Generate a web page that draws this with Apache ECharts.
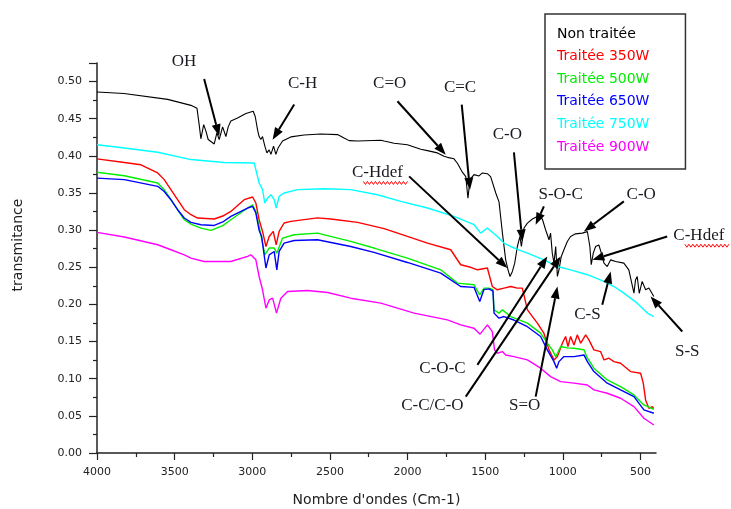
<!DOCTYPE html>
<html>
<head>
<meta charset="utf-8">
<script src="https://cdn.jsdelivr.net/npm/echarts@6/dist/echarts.min.js"></script>
<style>
  html, body { margin: 0; padding: 0; background: #fff; }
  #chart { width: 731px; height: 509px; }
</style>
</head>
<body>
<div id="chart"></div>
<script>
// spectra: [wavenumber (cm-1), transmittance]
const nonTraitee = [[4000,0.486],[3826,0.484],[3545,0.476],[3395,0.468],[3356,0.464],[3342,0.442],[3331,0.423],[3313,0.442],[3298,0.433],[3284,0.422],[3245,0.416],[3228,0.431],[3213,0.422],[3191,0.439],[3170,0.426],[3155,0.439],[3138,0.447],[3095,0.451],[3041,0.457],[2994,0.460],[2981,0.453],[2966,0.435],[2956,0.426],[2945,0.422],[2934,0.426],[2919,0.413],[2906,0.404],[2891,0.408],[2880,0.402],[2863,0.413],[2848,0.402],[2833,0.411],[2805,0.420],[2752,0.4255],[2666,0.428],[2559,0.4295],[2451,0.4286],[2409,0.424],[2376,0.4205],[2322,0.420],[2172,0.421],[2151,0.420],[2087,0.417],[2001,0.415],[1915,0.409],[1872,0.407],[1808,0.404],[1765,0.3995],[1743,0.398],[1701,0.396],[1679,0.390],[1647,0.378],[1625,0.372],[1611,0.343],[1598,0.368],[1572,0.3747],[1540,0.373],[1518,0.377],[1486,0.376],[1465,0.372],[1432,0.350],[1411,0.338],[1389,0.296],[1368,0.260],[1353,0.2466],[1340,0.2376],[1325,0.2444],[1310,0.2556],[1293,0.278],[1276,0.2915],[1267,0.278],[1250,0.3028],[1228,0.3095],[1196,0.315],[1164,0.3185],[1132,0.315],[1111,0.3005],[1089,0.287],[1079,0.296],[1068,0.269],[1057,0.2556],[1046,0.278],[1035,0.2376],[1025,0.2466],[1010,0.2646],[993,0.2736],[971,0.2848],[950,0.2915],[918,0.295],[875,0.296],[842,0.298],[826,0.278],[817,0.2534],[804,0.269],[789,0.278],[768,0.280],[752,0.269],[735,0.2556],[714,0.251],[692,0.260],[660,0.2578],[607,0.2556],[575,0.2466],[542,0.2152],[532,0.233],[521,0.2376],[508,0.215],[489,0.231],[467,0.2197],[446,0.222],[414,0.2107]];
const traitee350 = [[4000,0.396],[3824,0.391],[3717,0.388],[3609,0.377],[3567,0.368],[3524,0.3545],[3481,0.341],[3438,0.3275],[3395,0.3208],[3352,0.3163],[3245,0.315],[3190,0.319],[3138,0.3252],[3052,0.341],[2998,0.3446],[2977,0.3365],[2956,0.314],[2934,0.2983],[2912,0.278],[2891,0.2915],[2865,0.2983],[2846,0.2803],[2827,0.2983],[2795,0.3096],[2752,0.3118],[2580,0.3165],[2494,0.315],[2322,0.3105],[2151,0.302],[2001,0.2915],[1872,0.2826],[1722,0.2736],[1658,0.2534],[1593,0.250],[1550,0.2466],[1486,0.249],[1454,0.2241],[1422,0.2197],[1379,0.222],[1336,0.2241],[1293,0.222],[1261,0.222],[1228,0.1927],[1164,0.1748],[1122,0.1613],[1089,0.1388],[1057,0.1253],[1035,0.1298],[1003,0.1478],[982,0.1568],[967,0.1433],[950,0.1568],[928,0.1455],[907,0.159],[885,0.1478],[853,0.159],[832,0.1523],[800,0.1388],[757,0.1365],[735,0.1253],[703,0.1276],[671,0.123],[628,0.1208],[564,0.1096],[499,0.1074],[482,0.094],[467,0.0714],[446,0.0602],[424,0.0624],[414,0.060]];
const traitee500 = [[4000,0.378],[3824,0.3733],[3609,0.3634],[3567,0.3545],[3524,0.341],[3481,0.3275],[3438,0.314],[3395,0.308],[3331,0.3028],[3266,0.2996],[3190,0.306],[3138,0.314],[3030,0.3298],[2998,0.3342],[2977,0.3252],[2956,0.305],[2934,0.2826],[2919,0.2668],[2891,0.2759],[2859,0.2759],[2842,0.269],[2805,0.2893],[2730,0.2938],[2580,0.296],[2366,0.2848],[2216,0.2759],[2001,0.2624],[1786,0.2466],[1679,0.2287],[1572,0.2264],[1535,0.2129],[1508,0.222],[1476,0.222],[1450,0.220],[1443,0.1927],[1411,0.1883],[1389,0.1927],[1336,0.1837],[1228,0.1748],[1143,0.1613],[1100,0.1478],[1068,0.1388],[1046,0.1298],[1035,0.1343],[1014,0.1433],[971,0.1415],[928,0.1410],[864,0.139],[847,0.1298],[800,0.1142],[714,0.0984],[628,0.0894],[542,0.0782],[478,0.0647],[414,0.0589]];
const traitee650 = [[4000,0.370],[3824,0.368],[3609,0.359],[3567,0.352],[3524,0.341],[3481,0.3275],[3438,0.3163],[3395,0.3104],[3331,0.3073],[3245,0.3063],[3190,0.311],[3138,0.3185],[3030,0.3298],[2998,0.332],[2977,0.3230],[2956,0.300],[2940,0.2915],[2912,0.249],[2891,0.2668],[2859,0.2713],[2842,0.2466],[2827,0.2713],[2795,0.2826],[2730,0.286],[2580,0.287],[2366,0.278],[2216,0.270],[2001,0.2565],[1786,0.2422],[1658,0.2241],[1572,0.2230],[1535,0.2039],[1508,0.2200],[1476,0.2210],[1450,0.218],[1443,0.1883],[1411,0.1815],[1379,0.1837],[1315,0.179],[1228,0.170],[1143,0.1568],[1100,0.1388],[1057,0.123],[1040,0.1142],[1025,0.123],[993,0.1298],[928,0.1298],[864,0.132],[842,0.123],[800,0.1096],[714,0.094],[628,0.0849],[542,0.0759],[478,0.058],[414,0.0535]];
const traitee750 = [[4000,0.415],[3824,0.4106],[3609,0.4048],[3395,0.395],[3181,0.391],[2988,0.3904],[2972,0.377],[2956,0.3635],[2934,0.3545],[2919,0.3365],[2902,0.343],[2880,0.3477],[2859,0.341],[2846,0.3298],[2827,0.3455],[2795,0.350],[2708,0.3545],[2537,0.3558],[2366,0.3545],[2194,0.3477],[2044,0.3387],[1872,0.3298],[1701,0.3185],[1572,0.3073],[1529,0.296],[1486,0.3028],[1422,0.2915],[1379,0.2826],[1336,0.278],[1293,0.2740],[1228,0.269],[1122,0.260],[1035,0.251],[950,0.2466],[842,0.240],[735,0.2309],[671,0.2241],[607,0.2152],[521,0.2017],[456,0.1883],[414,0.1837]];
const traitee900 = [[4000,0.297],[3824,0.2907],[3609,0.2803],[3524,0.2736],[3438,0.2668],[3395,0.2624],[3310,0.2578],[3138,0.2578],[3030,0.2646],[3009,0.2668],[2977,0.260],[2956,0.2376],[2934,0.2197],[2912,0.195],[2891,0.206],[2869,0.2084],[2844,0.1883],[2816,0.2084],[2773,0.2174],[2644,0.2187],[2515,0.216],[2366,0.2084],[2172,0.2017],[1958,0.1883],[1743,0.1792],[1658,0.1725],[1572,0.168],[1533,0.1600],[1486,0.1725],[1454,0.1635],[1440,0.1388],[1422,0.1343],[1389,0.1365],[1368,0.132],[1315,0.1298],[1228,0.1253],[1143,0.1142],[1079,0.1028],[1014,0.0961],[928,0.094],[842,0.0916],[800,0.0849],[714,0.0804],[628,0.0737],[542,0.0624],[478,0.0468],[414,0.0377]];

const seriesNames = ['Non traitée', 'Traitée 350W', 'Traitée 500W', 'Traitée 650W', 'Traitée 750W', 'Traitée 900W'];
const seriesColors = ['#000000', '#ff0000', '#00ee00', '#0000ff', '#00ffff', '#ff00ff'];
const seriesData = [nonTraitee, traitee350, traitee500, traitee650, traitee750, traitee900];

const xMajorTicks = [4000, 3500, 3000, 2500, 2000, 1500, 1000, 500];
const xMinorTicks = [3750, 3250, 2750, 2250, 1750, 1250, 750];

// band assignments: label position, arrow start, arrow tip (data units)
const annotations = [
  { text: 'OH', at: [3440, 0.527], from: [3310, 0.5036], to: [3213, 0.4263] },
  { text: 'C-H', at: [2676, 0.4969], from: [2730, 0.469], to: [2869, 0.4218] },
  { text: 'C=O', at: [2115, 0.4973], from: [2065, 0.4735], to: [1754, 0.4016] },
  { text: 'C=C', at: [1662, 0.4915], from: [1651, 0.469], to: [1598, 0.3544] },
  { text: 'C-O', at: [1357, 0.4286], from: [1315, 0.4047], to: [1261, 0.2848] },
  { text: 'C-Hdef', at: [2194, 0.377], from: [1990, 0.3724], to: [1357, 0.2489], wavy: true },
  { text: 'S-O-C', at: [1014, 0.3477], from: [1122, 0.332], to: [1175, 0.3073] },
  { text: 'C-O', at: [495, 0.3477], from: [607, 0.3387], to: [864, 0.2982] },
  { text: 'C-Hdef', at: [124, 0.2925], from: [328, 0.2915], to: [810, 0.2601], wavy: true },
  { text: 'C-S', at: [842, 0.186], from: [746, 0.1995], to: [692, 0.2443] },
  { text: 'S-S', at: [199, 0.1365], from: [231, 0.1635], to: [435, 0.2106] },
  { text: 'C-O-C', at: [1775, 0.1142], from: [1550, 0.1186], to: [1100, 0.2646] },
  { text: 'C-C/C-O', at: [1840, 0.0633], from: [1625, 0.0759], to: [1014, 0.2646] },
  { text: 'S=O', at: [1246, 0.0633], from: [1175, 0.0759], to: [1035, 0.2241] }
];

const chart = echarts.init(document.getElementById('chart'));

const axisFont = { color: '#222', fontSize: 11, fontFamily: 'DejaVu Sans' };

const option = {
  animation: false,
  backgroundColor: '#fff',
  grid: { left: 97, right: 75, top: 63, bottom: 56, outerBoundsMode: 'none', containLabel: false },
  legend: {
    orient: 'vertical',
    left: 545,
    top: 14,
    padding: [13, 36, 15, 7],
    icon: 'none',
    itemWidth: 0,
    itemHeight: 14,
    itemGap: 8.6,
    selectedMode: false,
    backgroundColor: '#fff',
    borderColor: '#333',
    borderWidth: 1.5,
    textStyle: { fontFamily: 'DejaVu Sans', fontSize: 14 },
    data: seriesNames.map((n, i) => ({ name: n, textStyle: { color: seriesColors[i] } }))
  },
  xAxis: [
    {
      type: 'value',
      min: 400,
      max: 4000,
      inverse: true,
      position: 'bottom',
      name: "Nombre d'ondes (Cm-1)",
      nameLocation: 'middle',
      nameGap: 40,
      nameTextStyle: { color: '#222', fontSize: 14, fontFamily: 'DejaVu Sans' },
      axisLine: { lineStyle: { color: '#222', width: 1.5 } },
      axisTick: { customValues: xMajorTicks, length: 7, lineStyle: { color: '#222', width: 1.2 } },
      axisLabel: Object.assign({ customValues: xMajorTicks, margin: 14, formatter: v => String(v) }, axisFont),
      splitLine: { show: false }
    },
    {
      type: 'value',
      min: 400,
      max: 4000,
      inverse: true,
      position: 'bottom',
      axisLine: { show: false },
      axisTick: { customValues: xMinorTicks, length: 4, lineStyle: { color: '#222', width: 1.2 } },
      axisLabel: { show: false },
      splitLine: { show: false }
    }
  ],
  yAxis: {
    type: 'value',
    min: 0,
    max: 0.525,
    interval: 0.05,
    axisLine: { show: true, lineStyle: { color: '#222', width: 1.5 } },
    axisTick: { show: true, length: 8, lineStyle: { color: '#222', width: 1.2 } },
    minorTick: { show: true, splitNumber: 2, length: 4, lineStyle: { color: '#222', width: 1.2 } },
    axisLabel: Object.assign({ margin: 15, showMaxLabel: false, formatter: v => v.toFixed(2) }, axisFont),
    splitLine: { show: false }
  },
  series: seriesNames.map((n, i) => ({
    name: n,
    type: 'line',
    data: seriesData[i],
    showSymbol: false,
    symbol: 'none',
    color: seriesColors[i],
    lineStyle: { color: seriesColors[i], width: i === 0 ? 1.1 : 1.4 },
    z: 2
  }))
};

chart.setOption(option);

// annotations drawn through the axis scales
const toPx = p => chart.convertToPixel({ seriesIndex: 0 }, p);
const elements = [];
elements.push({
  type: 'text', x: 18, y: 245, rotation: Math.PI / 2,
  style: { text: 'transmitance', fill: '#222', font: '14px "DejaVu Sans"', align: 'center', verticalAlign: 'middle' }
});
annotations.forEach(a => {
  const c = toPx(a.at), p0 = toPx(a.from), p1 = toPx(a.to);
  elements.push({
    type: 'text', x: c[0], y: c[1], z: 10,
    style: { text: a.text, fill: '#1a1a22', font: '17px "Liberation Serif"', align: 'center', verticalAlign: 'middle' }
  });
  const dx = p1[0] - p0[0], dy = p1[1] - p0[1];
  const len = Math.sqrt(dx * dx + dy * dy);
  const ux = dx / len, uy = dy / len;
  const headL = 12, headW = 4.5;
  const bx = p1[0] - ux * headL, by = p1[1] - uy * headL;
  elements.push({
    type: 'line', z: 10,
    shape: { x1: p0[0], y1: p0[1], x2: bx, y2: by },
    style: { stroke: '#000', lineWidth: 2 }
  });
  elements.push({
    type: 'polygon', z: 10,
    shape: { points: [[p1[0], p1[1]], [bx - uy * headW, by + ux * headW], [bx + uy * headW, by - ux * headW]] },
    style: { fill: '#000' }
  });
  if (a.wavy) {
    const pts = [];
    let k = 0;
    for (let x = c[0] - 14; x <= c[0] + 30; x += 2, k++) {
      pts.push([x, c[1] + 10 + (k % 2 ? 1.5 : -1.5)]);
    }
    elements.push({ type: 'polyline', z: 10, shape: { points: pts }, style: { stroke: '#ff0000', lineWidth: 1, fill: null } });
  }
});
chart.setOption({ graphic: elements });
</script>
</body>
</html>
